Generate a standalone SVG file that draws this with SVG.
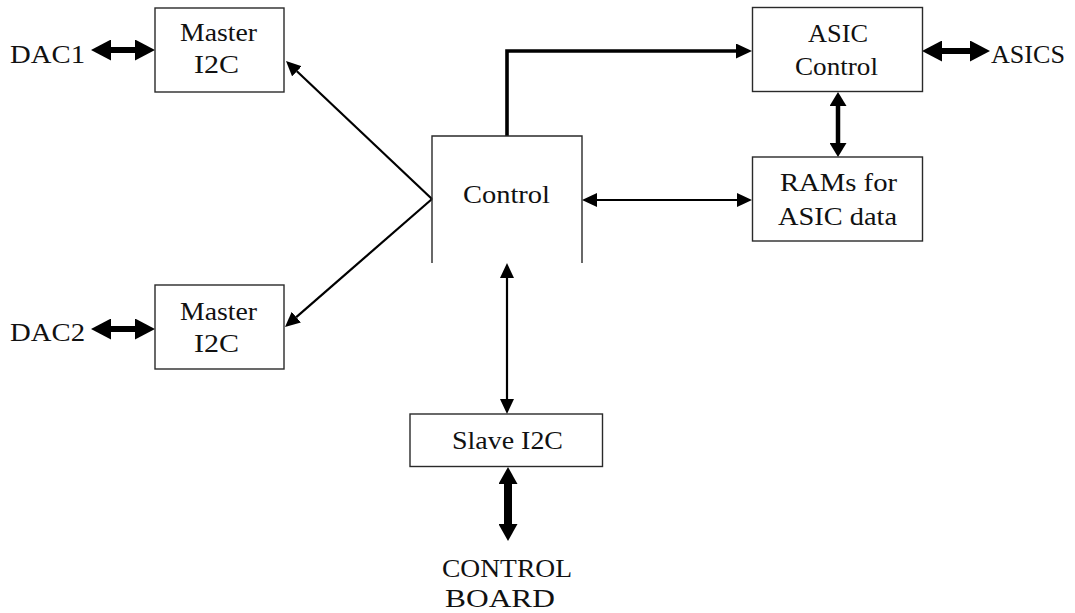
<svg xmlns="http://www.w3.org/2000/svg" width="1075" height="613" viewBox="0 0 1075 613">
  <style>
    .box { fill: #ffffff; stroke: #2a2a2a; stroke-width: 1.4; }
    .lbl { font-family: "Liberation Serif", "Times New Roman", serif; font-size: 25px; fill: #111111; }
    .thin { fill: none; stroke: #000000; stroke-width: 2.2; }
    .mid { fill: none; stroke: #000000; stroke-width: 3.6; }
    .bus { fill: none; stroke: #000000; stroke-width: 6; }
    .bus-v { fill: none; stroke: #000000; stroke-width: 4.5; }
    .bus-w { fill: none; stroke: #000000; stroke-width: 8; }
  </style>
  <defs>
    <!-- arrowheads: base sits on the line end, tip points outward -->
    <marker id="head-thin" markerUnits="userSpaceOnUse" viewBox="0 -7 15 14" markerWidth="15" markerHeight="14" refX="0" refY="0" orient="auto-start-reverse">
      <path d="M0,-7 L15,0 L0,7 Z" fill="#000"/>
    </marker>
    <marker id="head-mid" markerUnits="userSpaceOnUse" viewBox="0 -7.5 16 15" markerWidth="16" markerHeight="15" refX="0" refY="0" orient="auto-start-reverse">
      <path d="M0,-7.5 L16,0 L0,7.5 Z" fill="#000"/>
    </marker>
    <marker id="head-bus" markerUnits="userSpaceOnUse" viewBox="0 -10.5 20 21" markerWidth="20" markerHeight="21" refX="0" refY="0" orient="auto-start-reverse">
      <path d="M0,-10.5 L20,0 L0,10.5 Z" fill="#000"/>
    </marker>
    <marker id="head-bus-v" markerUnits="userSpaceOnUse" viewBox="0 -8.5 14 17" markerWidth="14" markerHeight="17" refX="0" refY="0" orient="auto-start-reverse">
      <path d="M0,-8.5 L14,0 L0,8.5 Z" fill="#000"/>
    </marker>
    <marker id="head-bus-w" markerUnits="userSpaceOnUse" viewBox="0 -9.5 17 19" markerWidth="17" markerHeight="19" refX="0" refY="0" orient="auto-start-reverse">
      <path d="M0,-9.5 L17,0 L0,9.5 Z" fill="#000"/>
    </marker>
  </defs>

  <rect width="1075" height="613" fill="#ffffff"/>

  <!-- connectors -->
  <g id="connectors">
    <line class="bus" x1="111" y1="50" x2="135" y2="50" marker-start="url(#head-bus)" marker-end="url(#head-bus)"/>
    <line class="bus" x1="111" y1="329" x2="135" y2="329" marker-start="url(#head-bus)" marker-end="url(#head-bus)"/>
    <line class="thin" x1="432" y1="199" x2="296.9" y2="71.3" marker-end="url(#head-thin)"/>
    <line class="thin" x1="432" y1="199" x2="296.3" y2="317.1" marker-end="url(#head-thin)"/>
    <path class="mid" d="M507,136 V51 H736" marker-end="url(#head-mid)"/>
    <line class="thin" x1="597" y1="200" x2="737" y2="200" marker-start="url(#head-thin)" marker-end="url(#head-thin)"/>
    <line class="bus-v" x1="838" y1="106" x2="838" y2="143" marker-start="url(#head-bus-v)" marker-end="url(#head-bus-v)"/>
    <line class="bus" x1="942" y1="51" x2="970" y2="51" marker-start="url(#head-bus)" marker-end="url(#head-bus)"/>
    <line class="thin" x1="507" y1="278" x2="507" y2="399" marker-start="url(#head-thin)" marker-end="url(#head-thin)"/>
    <line class="bus-w" x1="508" y1="484" x2="508" y2="524" marker-start="url(#head-bus-w)" marker-end="url(#head-bus-w)"/>
  </g>

  <!-- nodes -->
  <g id="master-i2c-1">
    <rect class="box" x="155" y="8" width="129" height="84"/>
    <text class="lbl" x="180" y="41" textLength="77" lengthAdjust="spacingAndGlyphs">Master</text>
    <text class="lbl" x="194" y="73" textLength="45" lengthAdjust="spacingAndGlyphs">I2C</text>
  </g>
  <g id="master-i2c-2">
    <rect class="box" x="155" y="285" width="129" height="84"/>
    <text class="lbl" x="180" y="319.5" textLength="77" lengthAdjust="spacingAndGlyphs">Master</text>
    <text class="lbl" x="194" y="352" textLength="45" lengthAdjust="spacingAndGlyphs">I2C</text>
  </g>
  <g id="dac1">
    <text class="lbl" x="10" y="63" textLength="75" lengthAdjust="spacingAndGlyphs">DAC1</text>
  </g>
  <g id="dac2">
    <text class="lbl" x="10" y="341" textLength="75" lengthAdjust="spacingAndGlyphs">DAC2</text>
  </g>
  <g id="control">
    <path d="M432,263 V136 H582 V263" fill="none" stroke="#2a2a2a" stroke-width="1.4"/>
    <text class="lbl" x="463" y="203" textLength="87" lengthAdjust="spacingAndGlyphs">Control</text>
  </g>
  <g id="asic-control">
    <rect class="box" x="752.5" y="7.5" width="170" height="84"/>
    <text class="lbl" x="808" y="42" textLength="60" lengthAdjust="spacingAndGlyphs">ASIC</text>
    <text class="lbl" x="795" y="75" textLength="83" lengthAdjust="spacingAndGlyphs">Control</text>
  </g>
  <g id="asics">
    <text class="lbl" x="991" y="63" textLength="74" lengthAdjust="spacingAndGlyphs">ASICS</text>
  </g>
  <g id="rams">
    <rect class="box" x="752.5" y="157" width="170" height="84"/>
    <text class="lbl" x="780" y="191" textLength="117" lengthAdjust="spacingAndGlyphs">RAMs for</text>
    <text class="lbl" x="778" y="224.5" textLength="119" lengthAdjust="spacingAndGlyphs">ASIC data</text>
  </g>
  <g id="slave-i2c">
    <rect class="box" x="410" y="414" width="192.5" height="52.5"/>
    <text class="lbl" x="452" y="449" textLength="111" lengthAdjust="spacingAndGlyphs">Slave I2C</text>
  </g>
  <g id="control-board">
    <text class="lbl" x="442" y="577" textLength="130" lengthAdjust="spacingAndGlyphs">CONTROL</text>
    <text class="lbl" x="445" y="607" textLength="110" lengthAdjust="spacingAndGlyphs">BOARD</text>
  </g>
</svg>
